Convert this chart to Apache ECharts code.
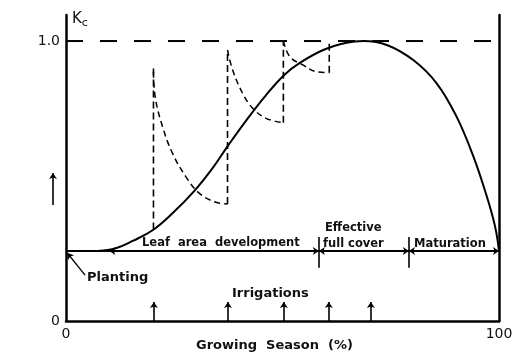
<!DOCTYPE html>
<html>
<head>
<meta charset="utf-8">
<script src="https://cdn.jsdelivr.net/npm/echarts@6/dist/echarts.min.js"></script>
<style>
  html, body { margin: 0; padding: 0; background: #fff; }
  #chart { width: 516px; height: 362px; }
</style>
</head>
<body>
<div id="chart"></div>
<script>
// crop coefficient curve (growing season %, Kc)
const kcCurve = [[7.3, 0.25], [11.5, 0.26], [15.4, 0.286], [20, 0.324], [24.6, 0.385], [29.6, 0.464],
  [33.9, 0.547], [37.3, 0.624], [41.6, 0.716], [46.2, 0.807], [50.4, 0.879], [54, 0.922],
  [59.4, 0.968], [64.8, 0.994], [68.7, 1.0], [74.1, 0.986], [80.2, 0.932], [85.6, 0.849],
  [90.2, 0.73], [94.1, 0.587], [97.2, 0.444], [99.1, 0.337], [100, 0.25]];

// wet-soil jumps after irrigation: [x, bottom Kc, top Kc]
const wetJumps = [[20.2, 0.327, 0.914], [37.3, 0.418, 0.968], [50.2, 0.708, 1.0], [60.8, 0.887, 1.0]];
// drying curves after each irrigation
const decay1 = [[20.2, 0.89], [20.6, 0.80], [22.3, 0.694], [24.6, 0.599], [27.7, 0.515],
  [30.8, 0.456], [34.6, 0.424], [37.3, 0.418]];
const decay2 = [[37.3, 0.968], [38.5, 0.896], [40.8, 0.813], [43.1, 0.76], [46.2, 0.724], [50.2, 0.708]];
const decay3 = [[50.2, 1.0], [51.7, 0.944], [54.8, 0.914], [57.9, 0.89], [60.8, 0.887]];

const irrigationDays = [20.3, 37.4, 50.3, 60.7, 70.4];
const irrigationArrow = 0.068;
const stageLine = 0.25;
const stageBounds = [10, 58.4, 79.2, 100];
const kcMax = 1.0;

const font = 'DejaVu Sans';
const chart = echarts.init(document.getElementById('chart'));

const jumpData = [];
wetJumps.forEach(j => { jumpData.push([j[0], j[1]], [j[0], j[2]], [j[0], '-']); });

const stageSegs = [];
for (let i = 0; i < stageBounds.length - 1; i++) {
  stageSegs.push({ coords: [[stageBounds[i], stageLine], [stageBounds[i + 1], stageLine]] });
}
const stageTicks = stageBounds.slice(1, 3).map(x => ({ coords: [[x, 0.19], [x, 0.30]] }));

const line = (name, data, opts) => Object.assign({
  name, type: 'line', data, symbol: 'none', silent: true, animation: false,
  lineStyle: { color: '#000', width: 1.6 }
}, opts);

const txt = (left, top, text, size) => ({
  type: 'text', left, top,
  style: { text, font: 'bold ' + size + 'px ' + font, fill: '#111' }
});

chart.setOption({
  animation: false,
  grid: { left: 66, right: 17, top: 15, bottom: 41 },
  xAxis: {
    type: 'value', min: 0, max: 100,
    axisLine: { lineStyle: { color: '#000', width: 2.5 } },
    axisTick: { show: false },
    splitLine: { show: false },
    axisLabel: { customValues: [0, 100], color: '#111', fontFamily: font, fontSize: 14, margin: 6 }
  },
  yAxis: [{
    type: 'value', min: 0, max: 1.093,
    axisLine: { show: true, lineStyle: { color: '#000', width: 2.5 } },
    axisTick: { show: false },
    splitLine: { show: false },
    axisLabel: {
      customValues: [0, 1.0], color: '#111', fontFamily: font, fontSize: 14, margin: 6,
      formatter: v => (v === 1 ? '1.0' : '0')
    }
  }, {
    type: 'value', min: 0, max: 1.093, position: 'right',
    axisLine: { show: true, lineStyle: { color: '#000', width: 2.5 } },
    axisTick: { show: false }, axisLabel: { show: false }, splitLine: { show: false }
  }],
  series: [
    line('kcMax', [[0, kcMax], [100, kcMax]], { lineStyle: { color: '#000', width: 2, type: [17, 17] } }),
    line('kc', kcCurve, { smooth: 0.4, lineStyle: { color: '#000', width: 2 } }),
    line('jumps', jumpData, { lineStyle: { color: '#000', width: 1.6, type: [7, 4] } }),
    line('decay1', decay1, { smooth: 0.4, lineStyle: { color: '#000', width: 1.5, type: [6, 4] } }),
    line('decay2', decay2, { smooth: 0.4, lineStyle: { color: '#000', width: 1.5, type: [6, 4] } }),
    line('decay3', decay3, { smooth: 0.4, lineStyle: { color: '#000', width: 1.5, type: [6, 4] } }),
    line('stage', [[0, stageLine], [100, stageLine]], { lineStyle: { color: '#000', width: 2.2 } }),
    {
      type: 'lines', coordinateSystem: 'cartesian2d', silent: true, animation: false, clip: false,
      symbol: ['arrow', 'arrow'], symbolSize: 6,
      lineStyle: { color: '#000', width: 1.2, opacity: 1 },
      data: stageSegs
    },
    {
      type: 'lines', coordinateSystem: 'cartesian2d', silent: true, animation: false, clip: false,
      symbol: 'none',
      lineStyle: { color: '#000', width: 1.6, opacity: 1 },
      data: stageTicks
    },
    {
      type: 'lines', coordinateSystem: 'cartesian2d', silent: true, animation: false, clip: false,
      symbol: ['none', 'arrow'], symbolSize: 6,
      lineStyle: { color: '#000', width: 1.6, opacity: 1 },
      data: irrigationDays.map(x => ({ coords: [[x, 0], [x, irrigationArrow]] }))
        .concat([{ coords: [[-3, 0.414], [-3, 0.529]] }])
    },
    {
      type: 'lines', coordinateSystem: 'cartesian2d', silent: true, animation: false, clip: false,
      symbol: ['none', 'arrow'], symbolSize: 6,
      lineStyle: { color: '#000', width: 1.3, opacity: 1 },
      data: [{ coords: [[4.4, 0.164], [0.3, 0.243]] }]
    }
  ],
  graphic: [
    { type: 'text', left: 72, top: 12, style: {
      text: '{k|K}{c|c}', rich: {
        k: { fontFamily: font, fontSize: 15, fill: '#111' },
        c: { fontFamily: font, fontSize: 11, fill: '#111', verticalAlign: 'bottom', padding: [7, 0, 0, 0] }
      } } },
    txt(142, 237, 'Leaf  area  development', 11.5),
    txt(325, 222, 'Effective', 11.5),
    txt(323, 238, 'full cover', 11.5),
    txt(414, 238, 'Maturation', 11.5),
    txt(87, 271, 'Planting', 13),
    txt(232, 287, 'Irrigations', 13),
    txt(196, 339, 'Growing  Season  (%)', 13)
  ]
});
</script>
</body>
</html>
